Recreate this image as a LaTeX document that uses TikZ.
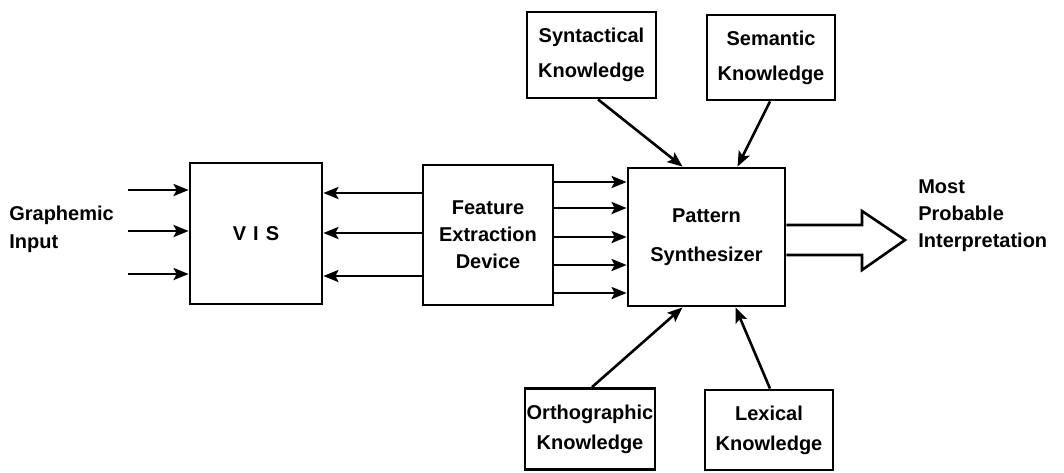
\documentclass[tikz,border=0pt]{standalone}
\usepackage{fontspec}
\setmainfont{Liberation Sans}
\usetikzlibrary{arrows.meta}
\begin{document}
\begin{tikzpicture}[x=1pt,y=-1pt,line width=2.6pt,
  box/.style={draw,line width=2.8pt,inner sep=0pt,align=center},
  txt/.style={font=\bfseries\fontsize{20}{#1}\selectfont},
  arr/.style={-{Stealth[length=15pt,width=12pt,inset=3pt]}},
  lbl/.style={inner sep=0pt,align=left,anchor=west}]
\useasboundingbox (0,0) rectangle (1064,472);
% boxes
\node[box,txt=27,minimum width=132pt,minimum height=141pt] (vis) at (256,233.5) {V\hspace{0.35em}I\hspace{0.35em}S};
\node[box,txt=27,minimum width=130pt,minimum height=140pt] (fed) at (488,235) {Feature\\Extraction\\Device};
\node[box,txt=39,minimum width=157pt,minimum height=138pt] (ps) at (706.5,237) {Pattern\\Synthesizer};
\node[box,txt=35,minimum width=129pt,minimum height=86pt] (syn) at (591.5,55) {Syntactical\\Knowledge};
\node[box,txt=35,minimum width=128pt,minimum height=85pt] (sem) at (771,57.5) {Semantic\\Knowledge};
\node[box,txt=30,minimum width=130pt,minimum height=81pt] (ort) at (590,429) {Orthographic\\Knowledge};
\node[box,txt=30,minimum width=128pt,minimum height=80pt] (lex) at (769,430) {Lexical\\Knowledge};
% labels
\node[lbl,txt=28] (gi) at (8,229) {Graphemic\\Input};
\node[lbl,txt=27] (mpi) at (917,216) {Most\\Probable\\Interpretation};
% input arrows
\coordinate (i1) at (128,190);
\coordinate (i2) at (128,231);
\coordinate (i3) at (128,274);
\draw[arr] (i1) -- (i1 -| vis.west);
\draw[arr] (i2) -- (i2 -| vis.west);
\draw[arr] (i3) -- (i3 -| vis.west);
% return arrows
\foreach \y [count=\k] in {193,233,276}{
  \coordinate (r\k) at (0,\y);
  \draw[arr] (r\k -| fed.west) -- (r\k -| vis.east);
}
% forward arrows
\foreach \y [count=\k] in {182,208,237,265,293}{
  \coordinate (f\k) at (0,\y);
  \draw[arr] (f\k -| fed.east) -- (f\k -| ps.west);
}
% knowledge arrows
\draw[arr] ([xshift=6.5pt]syn.south) -- ([xshift=-24pt]ps.north);
\draw[arr] ([xshift=-1pt]sem.south) -- ([xshift=31pt]ps.north);
\draw[arr] ([xshift=2pt]ort.north) -- ([xshift=-24pt]ps.south);
\draw[arr] ([xshift=1pt]lex.north) -- ([xshift=29pt]ps.south);
% hollow output arrow
\coordinate (o1) at (862,225);
\coordinate (o2) at (862,255);
\draw[line join=miter] (ps.east |- o1) -- (o1) -- (862,211) -- (905,240) -- (862,270) -- (o2) -- (ps.east |- o2);
\end{tikzpicture}
\end{document}
